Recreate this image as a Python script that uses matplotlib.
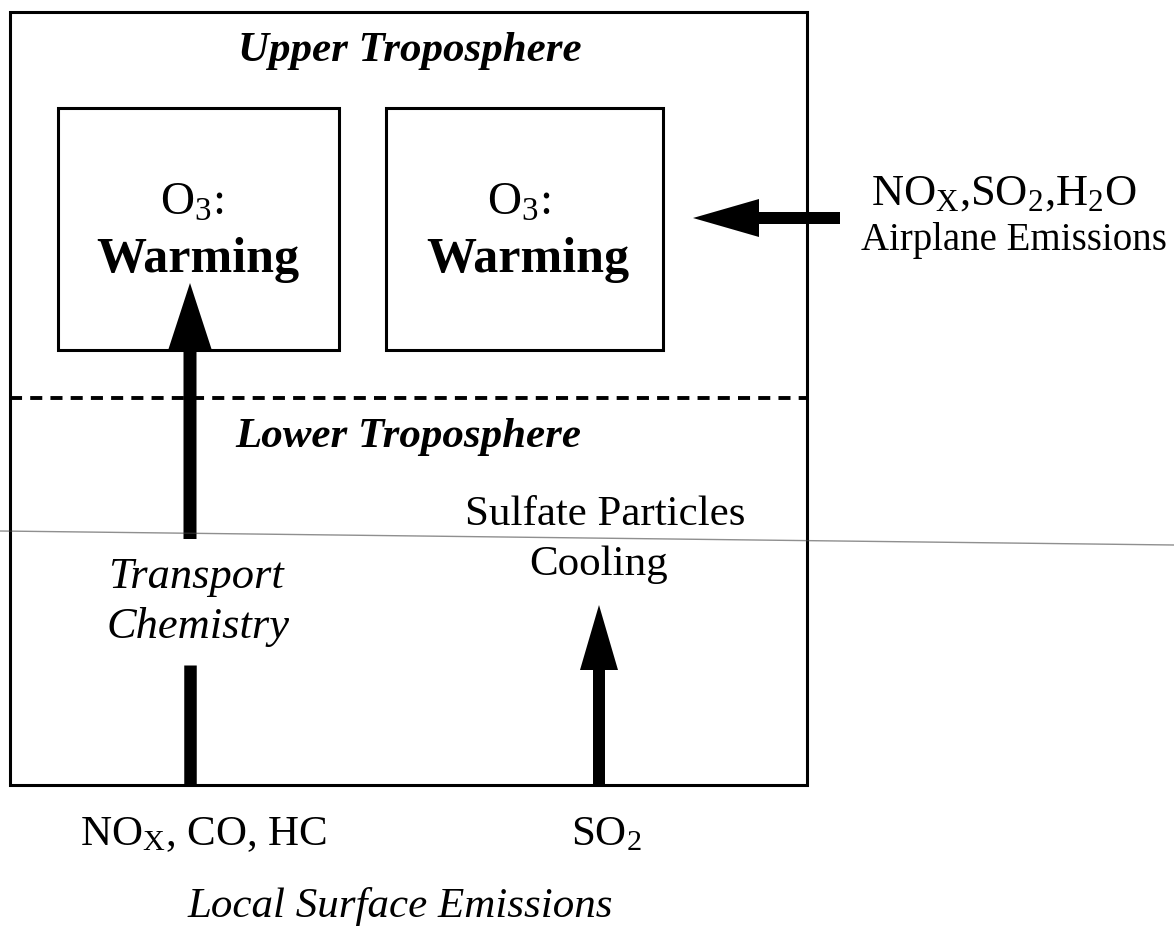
import matplotlib

matplotlib.use("Agg")
import matplotlib.pyplot as plt  # noqa: E402
from matplotlib.patches import FancyArrow, Rectangle  # noqa: E402

plt.rcParams["font.family"] = ["Liberation Serif", "DejaVu Serif"]
plt.rcParams["mathtext.fontset"] = "custom"
plt.rcParams["mathtext.rm"] = "Liberation Serif"
plt.rcParams["mathtext.it"] = "Liberation Serif:italic"
plt.rcParams["mathtext.bf"] = "Liberation Serif:bold"

# --- diagram content -------------------------------------------------------
layer_titles = ["Upper Troposphere", "Lower Troposphere"]
box_labels = ["O$_3$:", "O$_3$:"]
box_effects = ["Warming", "Warming"]
airplane_lines = ["NO$_\\mathrm{X}$,SO$_2$,H$_2$O", "Airplane Emissions"]
sulfate_lines = ["Sulfate Particles", "Cooling"]
transport_lines = ["Transport", "Chemistry"]
surface_species = ["NO$_\\mathrm{X}$, CO, HC", "SO$_2$"]
surface_title = "Local Surface Emissions"

W, H = 1174, 936
LW = 2.2
fig = plt.figure(figsize=(W / 100, H / 100), dpi=100)
ax = fig.add_axes([0, 0, 1, 1])
ax.set_xlim(0, W)
ax.set_ylim(H, 0)
ax.axis("off")

# frames
ax.add_patch(Rectangle((10, 12), 797, 773, fill=False, lw=LW, ec="black"))
for x0, x1 in [(58, 339), (386, 663)]:
    ax.add_patch(Rectangle((x0, 108), x1 - x0, 242, fill=False, lw=LW, ec="black"))

# tropopause (dashed) and the faint scan line
ax.plot([10, 807], [398, 398], color="black", lw=2.8, dashes=(3.1, 2.1))
ax.plot([0, 1174], [531, 545], color="#444444", lw=1.0, alpha=0.6)


def arrow(x, y, dx, dy, hl, hw, w=12):
    ax.add_patch(FancyArrow(x, y, dx, dy, width=w, head_length=hl, head_width=hw,
                            length_includes_head=True, color="black", lw=0))


# transport arrow (broken by the text)
ax.plot([190, 190], [785, 665], color="black", lw=9.0, solid_capstyle="butt")
arrow(190, 539, 0, -256, 66, 43, w=13)
# sulfate arrow
arrow(599, 785, 0, -180, 65, 38)
# airplane arrow
arrow(840, 218, -147, 0, 66, 38)

bold_it = dict(fontweight="bold", fontstyle="italic", fontsize=31, ha="center", va="baseline")
ax.text(410, 61, layer_titles[0], **bold_it)
ax.text(408, 447, layer_titles[1], **bold_it)

for ox, wx, lab, eff in zip([192, 519], [198, 528], box_labels, box_effects):
    ax.text(ox, 215, lab, fontsize=34, ha="center", va="baseline")
    ax.text(wx, 272, eff, fontsize=36, fontweight="bold", ha="center", va="baseline")

ax.text(1004, 205, airplane_lines[0], fontsize=32, ha="center", va="baseline")
ax.text(1014, 250, airplane_lines[1], fontsize=28, ha="center", va="baseline")

ax.text(605, 525, sulfate_lines[0], fontsize=31, ha="center", va="baseline")
ax.text(599, 575, sulfate_lines[1], fontsize=31, ha="center", va="baseline")

ax.text(196, 588, transport_lines[0], fontsize=32, fontstyle="italic", ha="center", va="baseline")
ax.text(198, 638, transport_lines[1], fontsize=32, fontstyle="italic", ha="center", va="baseline")

ax.text(204, 845, surface_species[0], fontsize=31, ha="center", va="baseline")
ax.text(606, 845, surface_species[1], fontsize=31, ha="center", va="baseline")
ax.text(400, 917, surface_title, fontsize=31, fontstyle="italic", ha="center", va="baseline")

fig.savefig("out.png", dpi=100)
